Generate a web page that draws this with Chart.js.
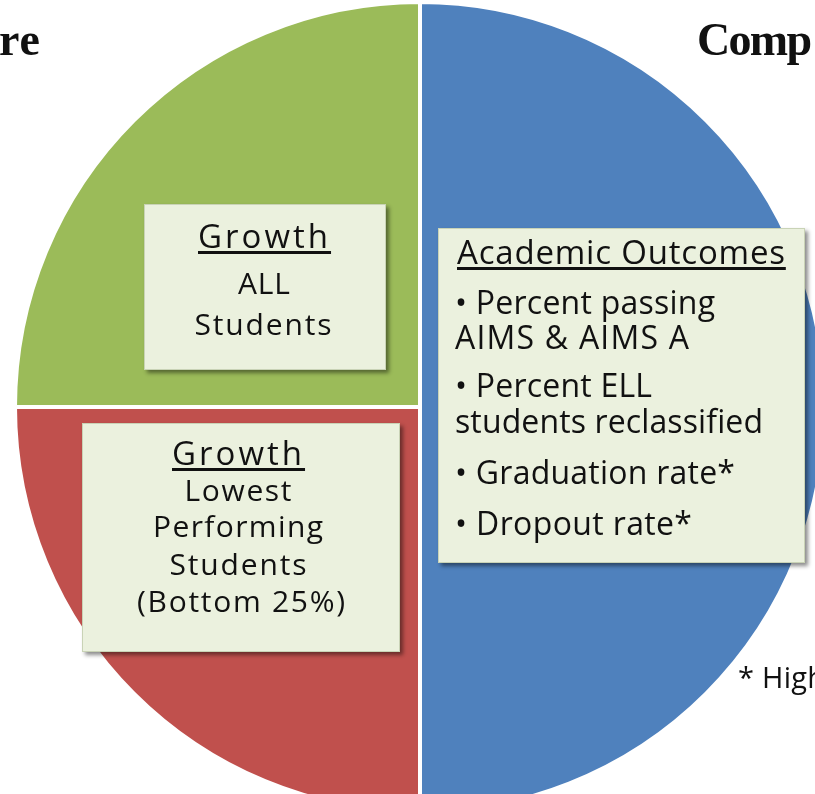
<!DOCTYPE html>
<html>
<head>
<meta charset="utf-8">
<script src="https://cdn.jsdelivr.net/npm/chart.js@4.4.1/dist/chart.umd.min.js"></script>
<style>
  html, body { margin: 0; padding: 0; background: #ffffff; }
  body { width: 815px; height: 794px; overflow: hidden; position: relative; }
  #pieWrap { position: absolute; left: 13px; top: 0px; width: 814px; height: 814px; }
  .box { position: absolute; background: #EBF1DE; border: 1px solid #c9d3b6;
         box-shadow: 3px 3px 4px rgba(0,0,0,0.45); box-sizing: border-box; }
  .ln { position: absolute; white-space: pre; color: #111; margin: 0; padding: 0; }
</style>
</head>
<body>
<div id="pieWrap"><canvas id="pie"></canvas></div>
<div id="overlay"></div>
<script>
// ---- chart data ----
const categories = ['Academic Outcomes', 'Growth: Lowest Performing Students (Bottom 25%)', 'Growth: ALL Students'];
const shares = [50, 25, 25];

// ---- label texts ----
const headingLeft = 're';
const headingRight = 'Comp';
const footnote = '* High';
const academicLines = ['Academic Outcomes', '\u2022 Percent passing', 'AIMS & AIMS A', '\u2022 Percent ELL', 'students reclassified', '\u2022 Graduation rate*', '\u2022 Dropout rate*'];
const growthAllLines = ['Growth', 'ALL', 'Students'];
const growthLowLines = ['Growth', 'Lowest', 'Performing', 'Students', '(Bottom 25%)'];

// ---- styles ----
const sliceColors = ['#4F81BD', '#C0504D', '#9BBB59'];

new Chart(document.getElementById('pie'), {
  type: 'pie',
  data: {
    labels: categories,
    datasets: [{
      data: shares,
      backgroundColor: sliceColors,
      borderColor: '#ffffff',
      borderWidth: 4
    }]
  },
  options: {
    responsive: true,
    maintainAspectRatio: false,
    animation: false,
    layout: { padding: 0 },
    plugins: { legend: { display: false }, tooltip: { enabled: false } }
  }
});

// ---- overlay text layout ----
const overlay = document.getElementById('overlay');
const mctx = document.createElement('canvas').getContext('2d');
const SANS = '"Open Sans", Lato, sans-serif';
const SERIF = '"Liberation Serif", "DejaVu Serif", serif';

function addBox(l, t, r, b) {
  const d = document.createElement('div');
  d.className = 'box';
  d.style.left = l + 'px'; d.style.top = t + 'px';
  d.style.width = (r - l) + 'px'; d.style.height = (b - t) + 'px';
  overlay.appendChild(d);
}

function placeLine(text, o) {
  const weight = o.weight || 'normal';
  const fam = o.family || SANS;
  mctx.font = weight + ' ' + o.size + 'px ' + fam;
  const m = mctx.measureText(text);
  const fa = m.fontBoundingBoxAscent || o.size * 1.07;
  const fd = m.fontBoundingBoxDescent || o.size * 0.29;
  const n = Array.from(text).length;
  let ls = 0;
  let w = m.width;
  if (o.width && n > 1) { ls = (o.width - m.width) / (n - 1); w = o.width; }
  const el = document.createElement('div');
  el.className = 'ln';
  el.textContent = text;
  el.style.font = weight + ' ' + o.size + 'px ' + fam;
  el.style.lineHeight = (fa + fd) + 'px';
  el.style.letterSpacing = ls + 'px';
  el.style.top = (o.baseline - fa) + 'px';
  const left = o.align === 'center' ? o.x - w / 2 : o.x;
  el.style.left = left + 'px';
  if (o.underline) {
    el.style.textDecoration = 'underline';
    el.style.textDecorationThickness = '2.5px';
    el.style.textUnderlineOffset = '3px';
  }
  overlay.appendChild(el);
}

// headings
placeLine(headingLeft, { x: -1, baseline: 55, size: 46, family: SERIF, weight: 'bold', width: 41 });
placeLine(headingRight, { x: 697, baseline: 55, size: 46, family: SERIF, weight: 'bold', width: 115 });

// green box
addBox(144, 204, 386, 370);
const gaLayout = [
  { x: 263, baseline: 248, size: 33, width: 130, underline: true },
  { x: 264, baseline: 294, size: 30, width: 52 },
  { x: 263, baseline: 335, size: 30, width: 137 }
];
growthAllLines.forEach((t, i) => placeLine(t, Object.assign({ align: 'center' }, gaLayout[i])));

// red box
addBox(82, 423, 400, 652);
const glLayout = [
  { x: 237, baseline: 465, size: 33, width: 130, underline: true },
  { x: 238, baseline: 501, size: 30, width: 107 },
  { x: 238, baseline: 537, size: 30, width: 170 },
  { x: 238, baseline: 575, size: 30, width: 137 },
  { x: 241, baseline: 612, size: 30, width: 208 }
];
growthLowLines.forEach((t, i) => placeLine(t, Object.assign({ align: 'center' }, glLayout[i])));

// blue box
addBox(438, 228, 805, 563);
const acLayout = [
  { x: 457, baseline: 264, size: 33, width: 328, underline: true },
  { x: 455, baseline: 314, size: 32, width: 260 },
  { x: 455, baseline: 349, size: 32, width: 234 },
  { x: 455, baseline: 397, size: 32, width: 197 },
  { x: 455, baseline: 433, size: 32, width: 308 },
  { x: 455, baseline: 484, size: 32, width: 280 },
  { x: 455, baseline: 535, size: 32, width: 237 }
];
academicLines.forEach((t, i) => placeLine(t, Object.assign({ align: 'left' }, acLayout[i])));

// footnote
placeLine(footnote, { x: 738, baseline: 688, size: 29, width: 87 });
</script>
</body>
</html>
